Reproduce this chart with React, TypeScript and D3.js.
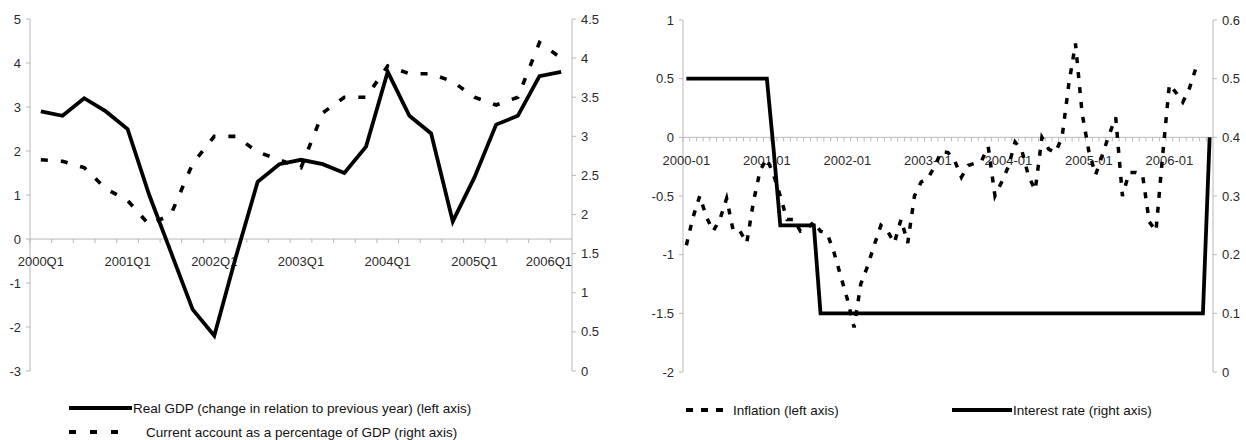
import React from "react";
import * as d3 from "d3";

const quarters = [
  "2000Q1","2000Q2","2000Q3","2000Q4","2001Q1","2001Q2","2001Q3","2001Q4",
  "2002Q1","2002Q2","2002Q3","2002Q4","2003Q1","2003Q2","2003Q3","2003Q4",
  "2004Q1","2004Q2","2004Q3","2004Q4","2005Q1","2005Q2","2005Q3","2005Q4","2006Q1",
];
const quarterLabels = ["2000Q1","2001Q1","2002Q1","2003Q1","2004Q1","2005Q1","2006Q1"];
const realGdp = [2.9,2.8,3.2,2.9,2.5,1.0,-0.3,-1.6,-2.2,-0.4,1.3,1.7,1.8,1.7,1.5,2.1,3.8,2.8,2.4,0.4,1.4,2.6,2.8,3.7,3.8];
const currentAccount = [2.7,2.68,2.6,2.33,2.18,1.87,2.0,2.65,3.0,3.0,2.8,2.7,2.6,3.3,3.5,3.5,3.9,3.8,3.8,3.7,3.5,3.4,3.5,4.2,4.0];
const gdpLeftTicks = [-3,-2,-1,0,1,2,3,4,5];
const gdpRightTicks = [0,0.5,1,1.5,2,2.5,3,3.5,4,4.5];

const years = ["2000","2001","2002","2003","2004","2005","2006"];
const months: string[] = [];
years.forEach((y) => {
  ["01","02","03","04","05","06","07","08","09","10","11","12"].forEach((m) => months.push(`${y}-${m}`));
});
months.splice(79);
const monthLabels = ["2000-01","2001-01","2002-01","2003-01","2004-01","2005-01","2006-01"];
const inflation = [
  -0.92,-0.68,-0.5,-0.68,-0.8,-0.7,-0.52,-0.8,-0.8,-0.9,-0.55,-0.28,
  -0.18,-0.32,-0.5,-0.7,-0.7,-0.8,-0.78,-0.72,-0.8,-0.82,-0.98,-1.18,
  -1.38,-1.62,-1.25,-1.1,-0.92,-0.75,-0.8,-0.9,-0.7,-0.9,-0.5,-0.38,
  -0.35,-0.25,-0.12,-0.13,-0.2,-0.34,-0.24,-0.22,-0.2,-0.08,-0.5,-0.38,
  -0.25,-0.04,-0.11,-0.33,-0.45,0.0,-0.1,-0.13,0.0,0.45,0.8,0.2,
  -0.12,-0.32,-0.15,0.02,0.17,-0.5,-0.3,-0.3,-0.32,-0.72,-0.8,-0.15,
  0.45,0.38,0.3,0.42,0.6,
];
const interestRate = [
  0.5,0.5,0.5,0.5,0.5,0.5,0.5,0.5,0.5,0.5,0.5,0.5,
  0.5,0.38,0.25,0.25,0.25,0.25,0.25,0.25,0.1,0.1,0.1,0.1,
  0.1,0.1,0.1,0.1,0.1,0.1,0.1,0.1,0.1,0.1,0.1,0.1,
  0.1,0.1,0.1,0.1,0.1,0.1,0.1,0.1,0.1,0.1,0.1,0.1,
  0.1,0.1,0.1,0.1,0.1,0.1,0.1,0.1,0.1,0.1,0.1,0.1,
  0.1,0.1,0.1,0.1,0.1,0.1,0.1,0.1,0.1,0.1,0.1,0.1,
  0.1,0.1,0.1,0.1,0.1,0.1,0.4,
];
const inflationTicks = [-2,-1.5,-1,-0.5,0,0.5,1];
const rateTicks = [0,0.1,0.2,0.3,0.4,0.5,0.6];

const FONT = "'Liberation Sans', Arial, Helvetica, sans-serif";
const AXIS = "#b8b8b8";
const TXT = "#2a2a2a";
const FS = 13;

export default function App() {
  // left chart scales
  const xL = d3.scaleBand<string>().domain(quarters).range([30, 572]);
  const yL = d3.scaleLinear().domain([-3, 5]).range([371, 19]);
  const yLR = d3.scaleLinear().domain([0, 4.5]).range([371, 19]);
  const cxL = (q: string) => (xL(q) as number) + xL.bandwidth() / 2;
  const gdpLine = d3.line<number>().x((_, i) => cxL(quarters[i])).y((d) => yL(d));
  const caLine = d3.line<number>().x((_, i) => cxL(quarters[i])).y((d) => yLR(d));

  // right chart scales
  const xR = d3.scaleBand<string>().domain(months).range([683, 1213]);
  const yI = d3.scaleLinear().domain([-2, 1]).range([372, 20]);
  const yRt = d3.scaleLinear().domain([0, 0.6]).range([372, 20]);
  const cxR = (m: string) => (xR(m) as number) + xR.bandwidth() / 2;
  const infLine = d3.line<number>().x((_, i) => cxR(months[i])).y((d) => yI(d));
  const rateLine = d3.line<number>().x((_, i) => cxR(months[i])).y((d) => yRt(d));

  const fmt = (v: number) => String(v);
  const lx0 = xL.range()[0], lx1 = xL.range()[1];
  const rx0 = xR.range()[0], rx1 = xR.range()[1];
  const halfLabel = 23;

  return (
    <div style={{ position: "absolute", left: 0, top: 0 }}>
      <svg width={1246} height={440} style={{ display: "block", background: "#fff" }} fontFamily={FONT}>
        {/* ===== LEFT CHART ===== */}
        <g>
          <line x1={lx0} x2={lx0} y1={yL(5)} y2={yL(-3)} stroke={AXIS} />
          {gdpLeftTicks.map((t) => (
            <g key={"gl" + t}>
              <line x1={lx0 - 4} x2={lx0} y1={yL(t)} y2={yL(t)} stroke={AXIS} />
              <text x={lx0 - 9} y={yL(t)} dy="0.35em" textAnchor="end" fontSize={FS} fill={TXT}>{fmt(t)}</text>
            </g>
          ))}
          <line x1={lx1} x2={lx1} y1={yLR(4.5)} y2={yLR(0)} stroke={AXIS} />
          {gdpRightTicks.map((t) => (
            <g key={"gr" + t}>
              <line x1={lx1} x2={lx1 + 4} y1={yLR(t)} y2={yLR(t)} stroke={AXIS} />
              <text x={lx1 + 9} y={yLR(t)} dy="0.35em" textAnchor="start" fontSize={FS} fill={TXT}>{fmt(t)}</text>
            </g>
          ))}
          <line x1={lx0} x2={lx1} y1={yL(0)} y2={yL(0)} stroke={AXIS} />
          {quarters.map((q) => (
            <line key={"qt" + q} x1={xL(q) as number} x2={xL(q) as number} y1={yL(0)} y2={yL(0) + 4} stroke={AXIS} />
          ))}
          {quarterLabels.map((q) => {
            const c = cxL(q);
            const over = c + halfLabel > lx1;
            return (
              <text key={"ql" + q} x={over ? lx1 : c} y={yL(0) + 27} textAnchor={over ? "end" : "middle"} fontSize={FS} fill={TXT}>{q}</text>
            );
          })}
          <path d={caLine(currentAccount) || ""} fill="none" stroke="#000" strokeWidth={3.6} strokeDasharray="7 13" />
          <path d={gdpLine(realGdp) || ""} fill="none" stroke="#000" strokeWidth={3.8} strokeLinejoin="miter" />
          {/* legend */}
          <line x1={69} x2={132} y1={408} y2={408} stroke="#000" strokeWidth={4} />
          <text x={133} y={408} dy="0.35em" fontSize={13.5} fill="#111">Real GDP (change in relation to previous year) (left axis)</text>
          <line x1={69} x2={128} y1={432} y2={432} stroke="#000" strokeWidth={4} strokeDasharray="7 14" />
          <text x={146} y={432} dy="0.35em" fontSize={13.5} fill="#111">Current account as a percentage of GDP (right axis)</text>
        </g>

        {/* ===== RIGHT CHART ===== */}
        <g>
          <line x1={rx0} x2={rx0} y1={yI(1)} y2={yI(-2)} stroke={AXIS} />
          {inflationTicks.map((t) => (
            <g key={"il" + t}>
              <line x1={rx0 - 4} x2={rx0} y1={yI(t)} y2={yI(t)} stroke={AXIS} />
              <text x={rx0 - 9} y={yI(t)} dy="0.35em" textAnchor="end" fontSize={FS} fill={TXT}>{fmt(t)}</text>
            </g>
          ))}
          <line x1={rx1} x2={rx1} y1={yRt(0.6)} y2={yRt(0)} stroke={AXIS} />
          {rateTicks.map((t) => (
            <g key={"rr" + t}>
              <line x1={rx1} x2={rx1 + 4} y1={yRt(t)} y2={yRt(t)} stroke={AXIS} />
              <text x={rx1 + 9} y={yRt(t)} dy="0.35em" textAnchor="start" fontSize={FS} fill={TXT}>{fmt(t)}</text>
            </g>
          ))}
          <line x1={rx0} x2={rx1} y1={yI(0)} y2={yI(0)} stroke={AXIS} />
          {months.map((m) => (
            <line key={"mt" + m} x1={xR(m) as number} x2={xR(m) as number} y1={yI(0)} y2={yI(0) + 4} stroke={AXIS} />
          ))}
          {monthLabels.map((m) => (
            <text key={"ml" + m} x={cxR(m)} y={yI(0) + 28} textAnchor="middle" fontSize={FS} fill={TXT}>{m}</text>
          ))}
          <path d={infLine(inflation) || ""} fill="none" stroke="#000" strokeWidth={3.5} strokeDasharray="6 9" />
          <path d={rateLine(interestRate) || ""} fill="none" stroke="#000" strokeWidth={3.8} />
          {/* legend */}
          <line x1={686} x2={723} y1={410} y2={410} stroke="#000" strokeWidth={4} strokeDasharray="7 8" />
          <text x={733} y={410} dy="0.35em" fontSize={13.5} fill="#111">Inflation (left axis)</text>
          <line x1={952} x2={1012} y1={410} y2={410} stroke="#000" strokeWidth={4} />
          <text x={1013} y={410} dy="0.35em" fontSize={13.5} fill="#111">Interest rate (right axis)</text>
        </g>
      </svg>
    </div>
  );
}
